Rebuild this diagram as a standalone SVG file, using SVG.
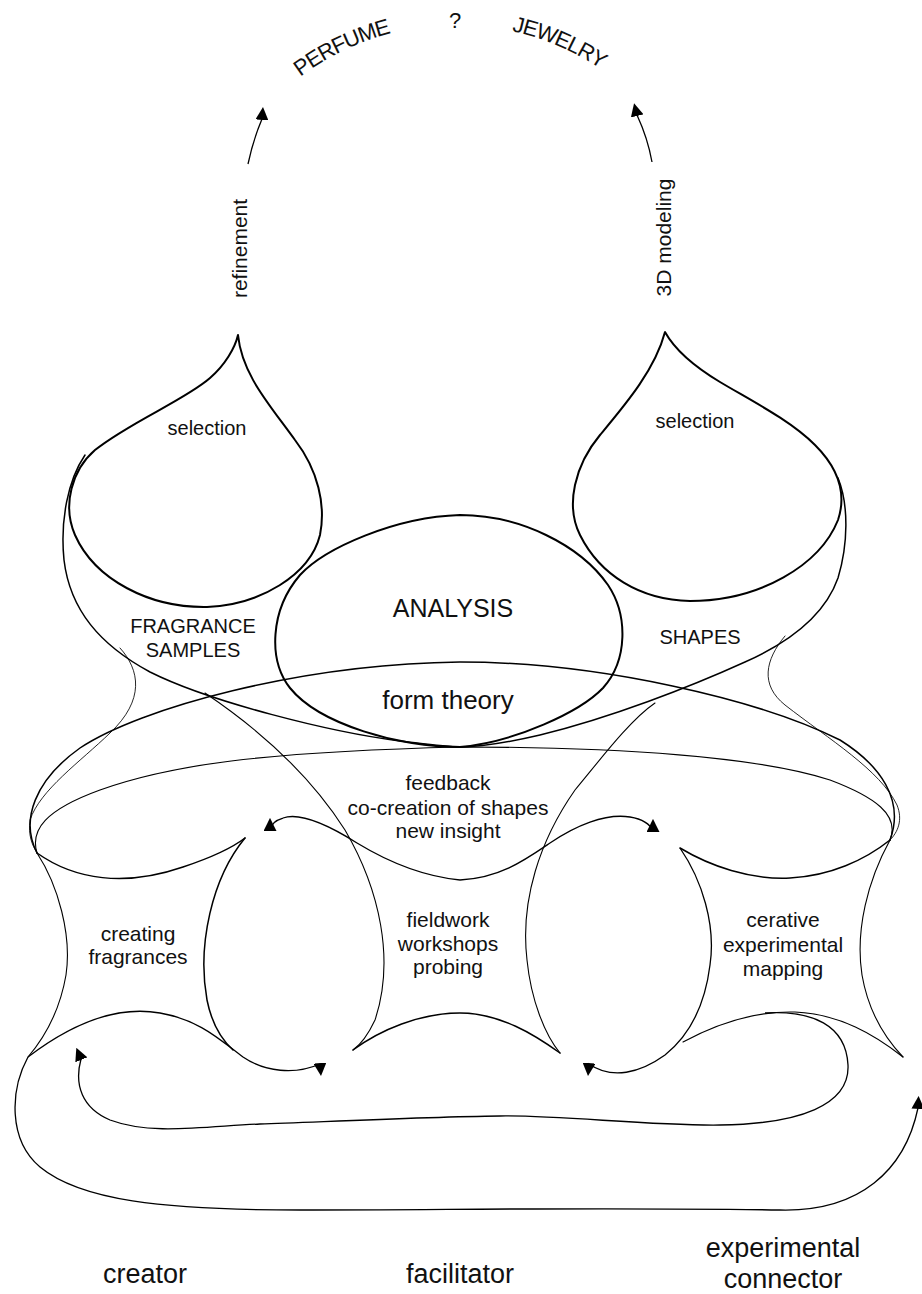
<svg xmlns="http://www.w3.org/2000/svg" width="922" height="1294" viewBox="0 0 922 1294">
  <defs>
    <style>
      .t { font-family: "Liberation Sans", Arial, Helvetica, sans-serif; fill: #111; text-anchor: middle; }
      .arc { font-size: 22px; letter-spacing: -1px; text-anchor: start; }
      .s20 { font-size: 20px; }
      .s21 { font-size: 21px; }
      .s27 { font-size: 27px; }
      .ln { fill: none; stroke: #000; stroke-linecap: round; stroke-linejoin: round; }
      .bold { stroke-width: 2; }
      .mid { stroke-width: 1.5; }
      .thin { stroke-width: 1.1; }
      .hair { stroke-width: 0.85; }
      .arr { fill: none; stroke: #000; stroke-width: 1.3; marker-end: url(#ah); }
    </style>
    <marker id="ah" viewBox="0 0 13 13" refX="1.5" refY="6.5" markerWidth="13" markerHeight="13" markerUnits="userSpaceOnUse" orient="auto">
      <path d="M0,0 L13,6.5 L0,13 Z" fill="#000"/>
    </marker>
    <path id="topArc" d="M256.8,117.9 A260,260 0 0,1 655.2,117.9"/>
  </defs>
  <rect width="922" height="1294" fill="#fff"/>

  <!-- top outcomes -->
  <g id="perfume">
    <text class="t arc"><textPath href="#topArc" startOffset="60">PERFUME</textPath></text>
  </g>
  <g id="question">
    <text class="t" x="455" y="28" style="font-size:22px">?</text>
  </g>
  <g id="jewelry">
    <text class="t arc"><textPath href="#topArc" startOffset="283">JEWELRY</textPath></text>
  </g>
  <g id="refinement-label">
    <text class="t s21" transform="translate(247,248.5) rotate(-90)">refinement</text>
  </g>
  <g id="modeling-label">
    <text class="t s21" transform="translate(671,237.5) rotate(-90)">3D modeling</text>
  </g>

  <!-- left drop: selection -->
  <g id="selection-left">
    <path class="ln bold" d="M238,335 C242,375 270,405 295,440 C318,470 326,505 320,535 C310,575 260,605 207,607 C150,608 95,580 75,535 C62,505 72,470 95,450 C130,422 185,400 210,378 C225,365 235,348 238,335 Z"/>
    <text class="t s20" x="207" y="435">selection</text>
  </g>

  <!-- right drop: selection -->
  <g id="selection-right">
    <path class="ln bold" d="M665,332 C655,370 625,405 600,435 C575,465 565,505 580,535 C600,575 640,600 690,601 C760,601 820,565 838,520 C848,490 835,465 815,445 C790,420 750,400 720,382 C695,367 675,350 665,332 Z"/>
    <text class="t s20" x="695" y="428">selection</text>
  </g>

  <!-- fragrance samples hull -->
  <g id="fragrance-samples">
    <path class="ln mid" d="M85,455 C68,480 60,520 64,560 C70,610 100,645 150,672 C210,702 330,732 400,741 C425,744 445,747 460,747"/>
    <path class="ln hair" d="M120,648 C140,670 145,700 110,733 C80,762 40,790 30,820 C28,835 32,845 37,853"/>
    <text class="t s20" x="193" y="633">FRAGRANCE</text>
    <text class="t s20" x="193" y="657">SAMPLES</text>
  </g>

  <!-- shapes hull -->
  <g id="shapes">
    <path class="ln mid" d="M838,478 C849,505 848,545 838,578 C825,615 790,642 745,662 C690,687 610,718 540,735 C510,742 480,747 460,747"/>
    <path class="ln hair" d="M785,636 C765,660 760,685 785,705 C830,740 880,770 897,805 C903,820 898,832 890,840"/>
    <text class="t s20" x="700" y="644">SHAPES</text>
  </g>

  <!-- analysis -->
  <g id="analysis">
    <path class="ln bold" d="M460,515 C520,515 580,545 608,585 C628,615 628,660 603,688 C580,712 515,742 460,747 C400,747 320,725 290,688 C268,660 270,610 300,575 C325,548 395,517 460,515 Z"/>
    <text class="t" x="453" y="617" style="font-size:25px">ANALYSIS</text>
  </g>

  <!-- form theory lens -->
  <g id="form-theory">
    <path class="ln mid" d="M37,853 C20,820 35,780 80,748 C140,708 300,664 460,662 C600,662 760,700 840,740 C880,765 905,800 890,840"/>
    <path class="ln thin" d="M37,853 C30,830 45,810 100,790 C170,765 260,752 460,747 C620,747 760,757 830,780 C875,797 900,815 890,840"/>
    <text class="t" x="448" y="709" style="font-size:26px">form theory</text>
  </g>

  <!-- feedback -->
  <g id="feedback">
    <text class="t s21" x="448" y="790">feedback</text>
    <text class="t s21" x="448" y="815">co-creation of shapes</text>
    <text class="t s21" x="448" y="838">new insight</text>
  </g>

  <!-- creating fragrances -->
  <g id="creating-fragrances">
    <path class="ln mid" d="M37,853 C75,880 125,887 183,867 C210,858 232,848 245,838"/>
    <path class="ln thin" d="M37,853 C58,885 72,935 66,975 C60,1010 45,1037 28,1057"/>
    <path class="ln mid" d="M245,838 C212,878 197,945 207,1000 C212,1025 222,1040 233,1050"/>
    <text class="t s21" x="138" y="941">creating</text>
    <text class="t s21" x="138" y="964">fragrances</text>
  </g>

  <!-- fieldwork -->
  <g id="fieldwork">
    <path class="ln thin" d="M205,693 C260,730 310,775 345,830 C380,890 395,960 375,1020 C368,1035 360,1045 353,1050"/>
    <path class="ln thin" d="M655,703 C630,720 600,760 575,790 C540,840 520,900 527,960 C531,1000 545,1035 560,1053"/>
    <path class="ln mid" d="M353,1050 C380,1030 420,1013 460,1013 C500,1013 535,1035 560,1053"/>
    <text class="t s21" x="448" y="927">fieldwork</text>
    <text class="t s21" x="448" y="951">workshops</text>
    <text class="t s21" x="448" y="974">probing</text>
  </g>

  <!-- cerative experimental mapping -->
  <g id="experimental-mapping">
    <path class="ln mid" d="M680,848 C710,866 750,880 790,878 C830,876 865,860 890,840"/>
    <path class="ln thin" d="M890,840 C868,880 855,930 862,975 C868,1010 885,1038 903,1057"/>
    <path class="ln thin" d="M683,1042 C720,1022 757,1011 795,1012 C840,1014 875,1035 903,1057"/>
    <text class="t s21" x="783" y="927">cerative</text>
    <text class="t s21" x="783" y="952">experimental</text>
    <text class="t s21" x="783" y="976">mapping</text>
  </g>

  <!-- roles -->
  <g id="creator">
    <text class="t s27" x="145" y="1283">creator</text>
  </g>
  <g id="facilitator">
    <text class="t s27" x="460" y="1283">facilitator</text>
  </g>
  <g id="experimental-connector">
    <text class="t s27" x="783" y="1257">experimental</text>
    <text class="t s27" x="783" y="1288">connector</text>
  </g>

  <!-- connectors -->
  <g id="connectors">
    <path class="arr" d="M248,164 C251,150 256,133 262,119 l0.05,-0.6"/>
    <path class="arr" d="M652,162 C649,145 643,128 637,115 l-0.15,-0.6"/>
    <path class="arr" d="M460,880 C420,876 385,860 357,843 C330,826 300,812 283,818 C276,820 271,824 270,830 l0,-0.6"/>
    <path class="arr" d="M460,880 C500,878 525,860 550,843 C575,826 605,813 630,817 C642,819 650,824 653,831 l0,-0.6"/>
    <path class="arr" d="M28,1057 C70,1025 115,1005 160,1013 C200,1020 220,1040 243,1057 C265,1072 295,1075 320,1064 l0.05,0.6"/>
    <path class="arr" d="M680,848 C702,880 716,925 710,965 C705,1005 690,1035 665,1055 C640,1073 612,1080 589,1064 l-0.05,0.6"/>
    <path class="arr" d="M765,1013 C812,1010 846,1025 848,1065 C850,1105 800,1124 720,1125 C650,1126 560,1115 500,1116 C420,1117 320,1122 260,1124 C200,1127 150,1135 110,1120 C82,1108 74,1085 81,1059 l-0.25,-0.6"/>
    <path class="arr" d="M28,1057 C10,1090 8,1140 40,1167 C80,1200 160,1210 300,1210 C450,1210 600,1207 780,1210 C860,1212 905,1170 918,1108 l0.03,-0.6"/>
  </g>
</svg>
